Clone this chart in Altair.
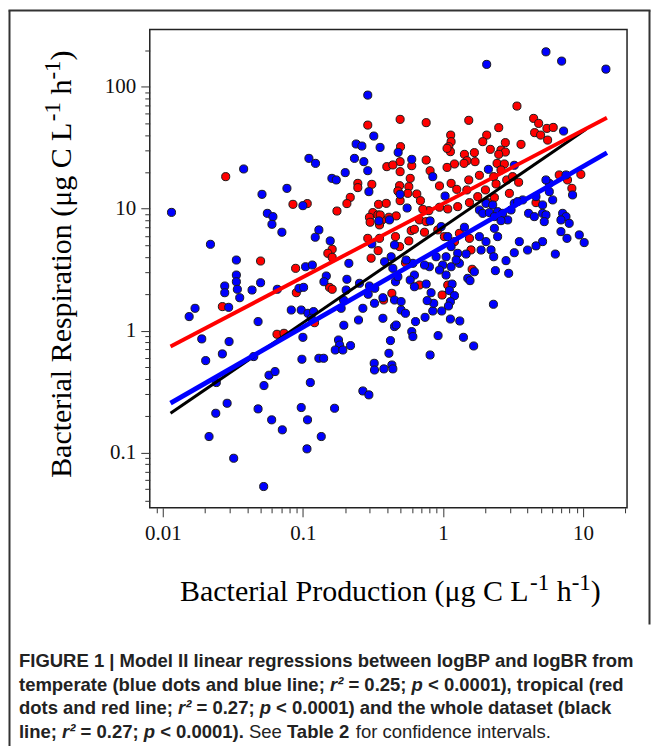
import altair as alt
import pandas as pd

# ---------------- data (log10 values) ----------------
temperate_log_bp = [
    -0.537, -0.494, -0.449, -0.620, -0.579, -0.632, -0.565, -0.537, -0.698, -0.793,
    -0.762, -0.529, -0.957, -0.910, -1.423, -1.114, -1.292, -1.000, -0.458, -1.938,
    -1.254, -1.214, -1.221, -1.150, -0.886, -0.912, -0.805, -1.660, -0.508,
    0.735, 0.847, 1.163, 0.312, 0.861, -0.320, -0.223, 0.324, 0.509, -0.073,
    -0.306, -0.256, 0.015, -0.382, -0.092, -0.013, 0.034, 0.153, 0.058, 0.759,
    0.878, 0.735, 0.925, 0.759, 0.711, 0.783, 0.664, 0.569, 0.509, 0.307,
    0.355, 0.390, 0.260, 0.284, 0.331, 0.367, 0.426, 0.462, 0.414, 0.486,
    0.533, 0.611, 0.652, 0.711, 0.735, 0.723, 0.854, 0.878, 0.901, 0.842,
    0.973, 1.008, 0.842, 0.885, 0.711, 0.664, 0.545, 0.260, 0.367, 0.390,
    0.307, -0.346, 0.343,
    0.802, 0.604, 0.509, 0.450, 0.374, 0.469, 0.362, 0.272, 0.022, 0.105,
    0.165, 0.058, 0.117, -0.002, -0.025, 0.022, 0.094, -0.049, -0.097, 0.177,
    0.224, 0.193, 0.065, 0.046, 0.082, 0.053, 0.039, -0.009, -0.073, -0.066,
    -0.113, -0.085, -0.120, -0.204, -0.234, -0.204, -0.132, -0.215, -0.263, -0.370,
    -0.417, -0.358, -0.339, -0.322, -0.429, -0.346, -0.299, -0.299, -0.268, -0.128,
    -0.196, 0.053, 0.120, -0.346, -0.334, -0.223, -0.215, -0.035, 0.146, 0.219,
    -0.375, -0.386, -0.092, -0.365, -0.422, -0.358, 0.360, -0.429,
    -1.475, -1.475, -1.475, -1.558, -1.558, -1.468, -1.451, -1.363, -1.302, -1.530,
    -1.812, -1.770, -1.183, -0.981, -0.933, -1.028, -0.995, -0.833, -0.850, -0.672,
    -0.686, -0.691, -0.596, -0.525, -0.534, -0.487, -1.083, -1.012, -0.964, -0.924,
    -0.940, -0.727, -0.710, -0.603, -0.572, -0.489, -1.320, -1.000, -1.007, -1.722,
    -1.527, -1.694, -1.575, -1.351, -0.886, -0.852, -0.746, -0.738, -0.769, -0.715,
    -0.660, -0.708, -0.491, -0.489, -1.242, -1.199, -1.278, -1.618, -0.947, -0.572,
    -0.529, -1.541, -1.622, -1.320, -1.012, -0.774, -1.223, -1.147, -0.967, -1.670,
    -0.869, -0.971, -1.494, -1.280,
]
temperate_log_br = [
    1.932, 1.596, 1.503, 1.531, 1.514, 1.413, 1.386, 1.312, 1.296, 1.249,
    1.236, 1.140, 1.413, 1.372, 1.326, 1.167, 1.118, 1.025, 0.900, 0.970,
    0.962, 0.935, 0.872, 0.807, 0.826, 0.766, 0.736, 0.708, 0.711,
    2.287, 2.211, 2.145, 2.184, 1.637, 1.462, 1.405, 1.323, 1.356, 1.263,
    1.118, 1.006, 1.104, 0.908, 0.900, 0.853, 0.771, 0.848, 0.689, 1.208,
    1.277, 1.236, 1.113, 1.140, 1.031, 1.072, 1.099, 1.072, 1.044, 1.044,
    1.031, 0.976, 0.990, 0.962, 0.968, 0.935, 0.962, 0.908, 0.902, 0.990,
    1.058, 0.962, 0.935, 0.962, 0.949, 0.894, 0.962, 0.935, 0.880, 0.908,
    0.785, 0.722, 0.812, 0.757, 0.730, 0.695, 0.730, 0.771, 0.839, 0.771,
    0.730, 0.703, 0.662,
    0.628, 0.661, 0.639, 0.574, 0.492, 0.470, 0.606, 0.661, 0.606, 0.634,
    0.628, 0.524, 0.552, 0.538, 0.497, 0.456, 0.579, 0.606, 0.524, 0.429,
    0.483, 0.410, 0.382, 0.328, 0.287, 0.238, 0.202, 0.161, 0.161, 0.224,
    0.246, 0.311, 0.382, 0.456, 0.415, 0.360, 0.538, 0.552, 0.579, 0.606,
    0.565, 0.511, 0.401, 0.442, 0.270, 0.251, 0.238, 0.169, 0.142, 0.109,
    0.074, 0.095, 0.079, 0.033, 0.046, -0.008, -0.049, -0.041, -0.055, -0.126,
    -0.082, -0.186, -0.200, -0.282, -0.314, -0.314, 0.216, 0.101,
    0.579, 0.456, 0.401, 0.366, 0.311, 0.339, 0.270, 0.333, 0.393, 0.191,
    0.115, 0.183, 0.339, 0.524, 0.538, 0.347, 0.355, 0.448, 0.401, 0.552,
    0.421, 0.333, 0.388, 0.366, 0.298, 0.347, 0.169, 0.169, 0.142, 0.156,
    0.101, 0.183, 0.251, 0.087, 0.183, 0.224, 0.074, -0.055, -0.235, -0.068,
    -0.090, -0.246, -0.191, -0.213, -0.227, -0.227, -0.077, -0.118, -0.159, -0.159,
    -0.123, 0.044, -0.268, -0.323, -0.366, -0.336, -0.451, -0.426, -0.426, -0.495,
    -0.527, -0.596, -0.678, -0.642, -0.631, -0.637, -0.732, -0.814, -0.732, -0.869,
    -0.869, -0.970, -1.047, -1.279,
]
tropical_log_bp = [
    -0.537, -0.608, -0.608, -0.508, -1.551, -1.071, -0.969, -0.662, -0.686, -0.460,
    -0.757, -0.501, -0.525, -0.465, -0.435, -0.520, -0.453, -0.537, -0.791, -0.463,
    -0.513,
    0.528, -0.306, -0.120, 0.184, 0.647, 0.683, 0.742, 0.787, 0.654, 0.697,
    0.747, 0.398, 0.312, 0.284, 0.055, 0.058, 0.041, 0.053, 0.029, 0.445,
    0.557, 0.414, 0.445, -0.303, -0.306, -0.120, 0.153, 0.224, 0.172, 0.229,
    0.082, 0.029, 0.150, 0.338, 0.398, 0.386, 0.438, 0.414, -0.401, -0.358,
    -0.223, -0.092, -0.306, 0.260, 0.184, 0.362, 0.455, 0.379, 0.497, -0.234,
    -0.244, -0.310, 0.058, -0.025, 0.098, -0.322, -0.251, -0.187, -0.161, -0.306,
    -0.405, 0.540, 0.248, 0.189, 0.105, 0.034, -0.025, -0.101, -0.144, 0.170,
    0.303, 0.367, 0.319, 0.474, -0.448, -0.386, -0.334, -0.168, -0.120, -0.227,
    -0.204, -0.132, -0.037, 0.010, 0.117, 0.189, -0.453, -0.339, -0.244, -0.310,
    0.830, 0.984, 0.889, 0.920, 0.664, 0.200, 0.082,
    -1.302, -1.575, -1.052, -1.047, -0.810, -0.791, -0.822, -0.791, -0.917, -1.185,
    -1.135,
    0.208, 0.034, -0.006, -0.168, -0.268, -0.365, -0.424,
]
tropical_log_br = [
    1.686, 1.208, 1.173, 1.200, 1.263, 1.036, 1.042, 1.093, 1.042, 1.036,
    0.981, 0.968, 0.930, 0.949, 0.908, 0.889, 0.867, 0.757, 0.667, 0.656,
    0.594,
    1.842, 1.733, 1.706, 1.725, 1.741, 1.700, 1.659, 1.667, 1.624, 1.604,
    1.563, 1.665, 1.604, 1.550, 1.604, 1.550, 1.509, 1.468, 1.495, 1.542,
    1.528, 1.481, 1.465, 1.509, 1.386, 1.399, 1.446, 1.460, 1.394, 1.386,
    1.367, 1.339, 1.372, 1.487, 1.446, 1.372, 1.367, 1.318, 1.345, 1.359,
    1.353, 1.312, 1.304, 1.274, 1.236, 1.263, 1.236, 1.203, 1.263, 1.249,
    1.181, 1.189, 1.208, 1.187, 1.159, 1.145, 1.126, 1.121, 1.066, 1.066,
    1.044, 1.217, 1.099, 1.050, 1.017, 0.998, 1.012, 0.984, 0.995, 1.154,
    1.154, 1.091, 1.050, 1.126, 0.949, 0.930, 0.941, 0.908, 0.894, 0.820,
    0.831, 0.807, 0.826, 0.771, 0.798, 0.757, 0.757, 0.771, 0.736, 0.689,
    1.277, 1.282, 1.236, 1.167, 1.050, 0.662, 0.730,
    0.571, 0.197, 0.511, 0.311, 0.355, 0.339, 0.634, 0.601, 0.065, -0.030,
    -0.022,
    0.503, 0.374, 0.292, 0.374, 0.557, 0.306, 0.251,
]

# Model II regression lines (end points, in µg C L-1 h-1)
line_names = ["Whole dataset", "Tropical", "Temperate"]
line_bp_from = [0.01135, 0.01135, 0.01135]
line_bp_to = [10.5, 14.8, 14.8]
line_br_from = [0.21, 0.74, 0.254]
line_br_to = [44.8, 55.7, 28.8]

x_decades = [0.01, 0.1, 1, 10]
y_decades = [0.1, 1, 10, 100]

# ---------------- tables ----------------
pts = pd.DataFrame({
    "bp": [10 ** v for v in tropical_log_bp] + [10 ** v for v in temperate_log_bp],
    "br": [10 ** v for v in tropical_log_br] + [10 ** v for v in temperate_log_br],
    "group": ["Tropical"] * len(tropical_log_bp) + ["Temperate"] * len(temperate_log_bp),
})
lines_df = pd.DataFrame({
    "name": line_names, "x1": line_bp_from, "x2": line_bp_to,
    "y1": line_br_from, "y2": line_br_to,
})

x_ticks = [round(m * d, 6) for d in [0.001] + x_decades for m in range(1, 10)]
x_ticks = [v for v in x_ticks if 0.0085 <= v <= 20.5]
y_ticks = [round(m * d, 6) for d in [0.01] + y_decades for m in range(1, 10)]
y_ticks = [v for v in y_ticks if 0.036 <= v <= 290]

DEC = "abs(log(datum.value)/LN10 - round(log(datum.value)/LN10)) < 0.001"
SERIF = "Liberation Serif, Times New Roman, serif"
SANS = "Liberation Sans, Arial, sans-serif"


def make_axis(values, pad):
    return alt.Axis(
        values=values, title=None, grid=False, domain=False,
        labelExpr=f"{DEC} ? format(datum.value, '~g') : ''",
        tickSize={"condition": {"test": DEC, "value": 9}, "value": 5},
        tickColor="#333", tickWidth=1, labelFont=SERIF, labelFontSize=21,
        labelColor="#111", labelPadding=pad, labelOverlap=False, labelFlush=False,
    )


xs = alt.Scale(type="log", domain=[0.00807, 20.6], nice=False)
ys = alt.Scale(type="log", domain=[0.0352, 295], nice=False)

base = alt.Chart(pts)
red_pts = base.transform_filter(alt.datum.group == "Tropical").mark_circle(
    size=66, opacity=1, color="#ff0000", stroke="#1a1a1a", strokeWidth=1
).encode(
    x=alt.X("bp:Q", scale=xs, axis=make_axis(x_ticks, 6)),
    y=alt.Y("br:Q", scale=ys, axis=make_axis(y_ticks, 5)),
)
blue_pts = base.transform_filter(alt.datum.group == "Temperate").mark_circle(
    size=66, opacity=1, color="#0000ff", stroke="#1a1a1a", strokeWidth=1
).encode(x=alt.X("bp:Q", scale=xs), y=alt.Y("br:Q", scale=ys))

lines = alt.Chart(lines_df).mark_rule(strokeCap="butt").encode(
    x=alt.X("x1:Q", scale=xs), x2="x2:Q",
    y=alt.Y("y1:Q", scale=ys), y2="y2:Q",
    color=alt.Color("name:N", scale=alt.Scale(domain=line_names,
                    range=["#000000", "#ff0000", "#0000ff"]), legend=None),
    strokeWidth=alt.StrokeWidth("name:N", scale=alt.Scale(domain=line_names,
                                range=[3, 4.8, 4.8]), legend=None),
)

# ---------------- text helpers ----------------
TIMES = {' ': .25, '(': .333, ')': .333, '-': .333, '1': .5, 'B': .667, 'C': .667,
         'L': .611, 'P': .556, 'R': .667, 'a': .444, 'c': .444, 'd': .5, 'e': .444,
         'g': .5, 'h': .5, 'i': .278, 'l': .278, 'n': .5, 'o': .5, 'p': .5, 'r': .333,
         's': .389, 't': .278, 'u': .5, 'μ': .576}
ARB = {' ': .278, '(': .333, ')': .333, ';': .333, '.': .278, ',': .278, '=': .584,
       '<': .584, '|': .28, '²': .333, 'a': .556, 'b': .611, 'c': .556, 'd': .611,
       'e': .556, 'f': .333, 'g': .611, 'h': .611, 'i': .278, 'k': .556, 'l': .278,
       'm': .889, 'n': .611, 'o': .611, 'p': .611, 'r': .389, 's': .556, 't': .333,
       'u': .611, 'v': .556, 'w': .778, 'y': .556, 'T': .611, 'F': .611, 'I': .278,
       'G': .778, 'U': .722, 'R': .722, 'E': .667, 'M': .833, 'B': .722, 'P': .667}
ARR = {' ': .278, 'a': .556, 'c': .5, 'd': .556, 'e': .556, 'f': .278, 'i': .222,
       'l': .222, 'n': .556, 'o': .556, 'r': .333, 's': .5, 't': .278, 'v': .5,
       'S': .667, '.': .278}


def width(s, size, table):
    return sum(table.get(c, .556) for c in s) * size


def txt(t, x, y, size, font, weight="normal", style="normal", angle=0, color="#000"):
    return alt.Chart(pd.DataFrame({"t": [t]})).mark_text(
        x=x, y=y, align="left", baseline="alphabetic", font=font, fontSize=size,
        fontWeight=weight, fontStyle=style, angle=angle, color=color,
    ).encode(text="t:N")


texts = []

# axis titles with superscripts
title_segs_x = [("Bacterial Production (μg C L", 30, 0), ("-1", 23, 11), (" h", 30, 0),
                ("-1", 23, 11), (")", 30, 0)]
tot = sum(width(s, z, TIMES) for s, z, r in title_segs_x)
cur = 241 - tot / 2
for s, z, r in title_segs_x:
    lead = len(s) - len(s.lstrip())
    texts.append(txt(s.strip(), cur + width(s[:lead], z, TIMES), 572 - r, z, SERIF))
    cur += width(s, z, TIMES)

title_segs_y = [("Bacterial Respiration (μg C L", 30, 0), ("-1", 23, 11), (" h", 30, 0),
                ("-1", 23, 11), (")", 30, 0)]
tot = sum(width(s, z, TIMES) for s, z, r in title_segs_y)
cur = 235 + tot / 2
for s, z, r in title_segs_y:
    lead = len(s) - len(s.lstrip())
    texts.append(txt(s.strip(), -79 - r, cur - width(s[:lead], z, TIMES), z, SERIF, angle=270))
    cur -= width(s, z, TIMES)

# caption
CAP = 18.5
B, BI, R = ("bold", "normal"), ("bold", "italic"), ("normal", "normal")
caption = [
    [("FIGURE 1 | Model II linear regressions between logBP and logBR from", B)],
    [("temperate (blue dots and blue line; ", B), ("r²", BI), (" = 0.25; ", B), ("p", BI),
     (" < 0.0001), tropical (red", B)],
    [("dots and red line; ", B), ("r²", BI), (" = 0.27; ", B), ("p", BI),
     (" < 0.0001) and the whole dataset (black", B)],
    [("line; ", B), ("r²", BI), (" = 0.27; ", B), ("p", BI), (" < 0.0001).", B),
     (" See ", R), ("Table 2", B), (" for confidence intervals.", R)],
]
for i, segs in enumerate(caption):
    cur = -131
    for s, (w, st) in segs:
        table = ARB if w == "bold" else ARR
        lead = len(s) - len(s.lstrip())
        texts.append(txt(s.strip(), cur + width(s[:lead], CAP, table), 638 + 24 * i,
                         CAP, SANS, weight=w, style=st, color="#222"))
        cur += width(s, CAP, table)

# figure frame lines
one = pd.DataFrame({"k": [0]})
frame = [
    alt.Chart(one).mark_rule(color="#333", strokeWidth=2).encode(
        x=alt.value(-140.5), y=alt.value(-19), y2=alt.value(719)),
    alt.Chart(one).mark_rule(color="#333", strokeWidth=2).encode(
        x=alt.value(-141.5), x2=alt.value(501.5), y=alt.value(-19)),
    alt.Chart(one).mark_rule(color="#333", strokeWidth=2).encode(
        x=alt.value(500.5), y=alt.value(-19), y2=alt.value(596)),
]

chart = alt.layer(red_pts, blue_pts, lines, *texts, *frame).properties(
    width=478, height=479,
    padding={"left": 142, "top": 21, "right": 24, "bottom": 238},
    autosize=alt.AutoSizeParams(type="none"),
    background="white",
).configure_view(stroke="#222", strokeWidth=1.5)

chart.save("out.html", embed_options={"renderer": "svg", "actions": False})
